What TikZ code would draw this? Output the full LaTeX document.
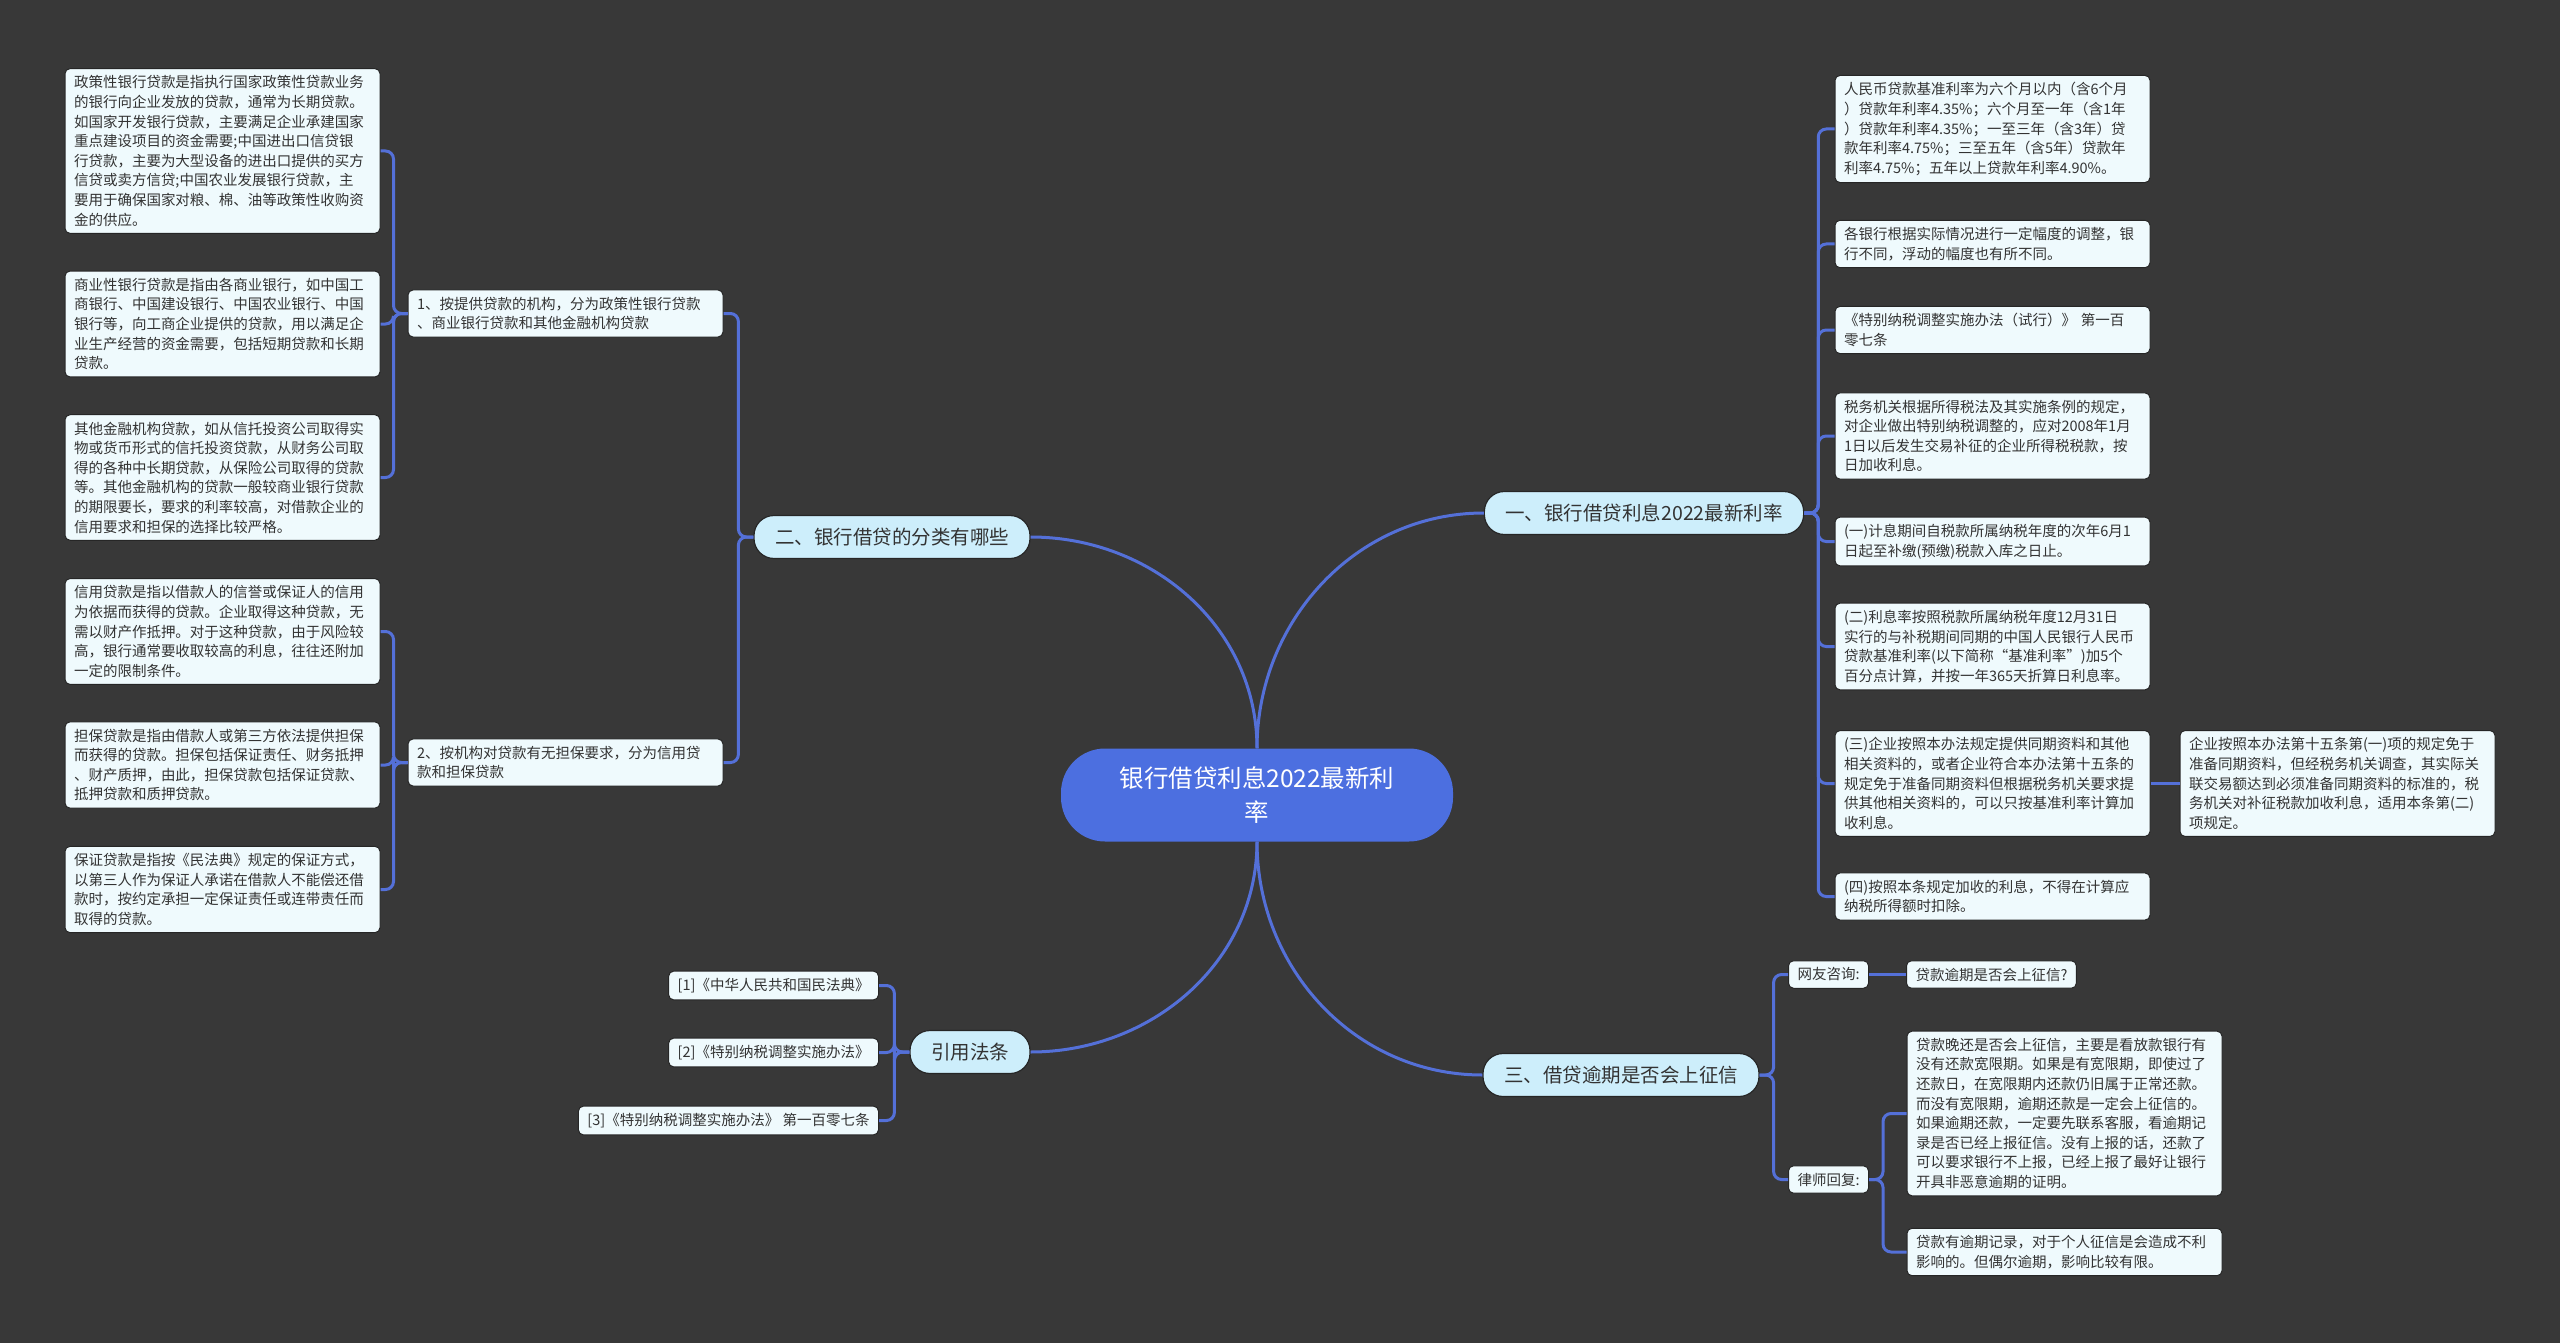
\documentclass[tikz,border=0pt]{standalone}
\usepackage{fontspec}
\setmainfont{Noto Sans CJK SC}
\usetikzlibrary{positioning}

\definecolor{bgdark}{HTML}{383838}
\definecolor{linkblue}{HTML}{5470D8}
\definecolor{rootblue}{HTML}{4C6FE0}
\definecolor{pillfill}{HTML}{CDEEFB}
\definecolor{leaffill}{HTML}{EFFAFD}
\definecolor{edgedark}{HTML}{262626}
\definecolor{inkdark}{HTML}{333333}

\begin{document}
\begin{tikzpicture}[x=1pt,y=-1pt,
  link/.style={draw=linkblue,line width=3pt,rounded corners=8pt},
  rootnode/.style={fill=rootblue,text=white,rounded corners=44pt,minimum height=93pt,minimum width=392pt,align=center,font=\fontsize{24.5}{34}\selectfont},
  branchnode/.style={fill=pillfill,draw=edgedark,line width=1.2pt,text=inkdark,rounded corners=20pt,minimum height=43pt,inner xsep=21pt,font=\fontsize{19.5}{24}\selectfont},
  leafnode/.style={fill=leaffill,draw=edgedark,line width=1pt,text=inkdark,rounded corners=5pt,inner xsep=9pt,inner ysep=7pt,font=\fontsize{14.5}{19.6}\selectfont},
  para/.style={leafnode,text width=297pt,align=left}]
\useasboundingbox (0,0) rectangle (2560,1343);
\fill[bgdark] (0,0) rectangle (2560,1343);

% centre and main branches
\node[rootnode] (root) at (1257,795) {银行借贷利息2022最新利\\率};
\node[branchnode] (sec1) at (1644,513) {一、银行借贷利息2022最新利率};
\node[branchnode] (sec2) at (892,537) {二、银行借贷的分类有哪些};
\node[branchnode] (law) at (970,1052) {引用法条};
\node[branchnode] (sec3) at (1621,1075) {三、借贷逾期是否会上征信};

% branch one
\node[para] (s1a) at (1992.5,129) {人民币贷款基准利率为六个月以内（含6个月\\）贷款年利率4.35\%；六个月至一年（含1年\\）贷款年利率4.35\%；一至三年（含3年）贷\\款年利率4.75\%；三至五年（含5年）贷款年\\利率4.75\%；五年以上贷款年利率4.90\%。};
\node[para] (s1b) at (1992.5,244) {各银行根据实际情况进行一定幅度的调整，银\\行不同，浮动的幅度也有所不同。};
\node[para] (s1c) at (1992.5,330) {《特别纳税调整实施办法（试行）》 第一百\\零七条};
\node[para] (s1d) at (1992.5,436) {税务机关根据所得税法及其实施条例的规定，\\对企业做出特别纳税调整的，应对2008年1月\\1日以后发生交易补征的企业所得税税款，按\\日加收利息。};
\node[para] (s1e) at (1992.5,541.5) {(一)计息期间自税款所属纳税年度的次年6月1\\日起至补缴(预缴)税款入库之日止。};
\node[para] (s1f) at (1992.5,646.5) {(二)利息率按照税款所属纳税年度12月31日\\实行的与补税期间同期的中国人民银行人民币\\贷款基准利率(以下简称“基准利率”)加5个\\百分点计算，并按一年365天折算日利息率。};
\node[para] (s1g) at (1992.5,783.5) {(三)企业按照本办法规定提供同期资料和其他\\相关资料的，或者企业符合本办法第十五条的\\规定免于准备同期资料但根据税务机关要求提\\供其他相关资料的，可以只按基准利率计算加\\收利息。};
\node[para] (s1x) at (2337.5,783.5) {企业按照本办法第十五条第(一)项的规定免于\\准备同期资料，但经税务机关调查，其实际关\\联交易额达到必须准备同期资料的标准的，税\\务机关对补征税款加收利息，适用本条第(二)\\项规定。};
\node[para] (s1h) at (1992.5,896.5) {(四)按照本条规定加收的利息，不得在计算应\\纳税所得额时扣除。};

% branch two
\node[para] (kind1) at (565.5,313.5) {1、按提供贷款的机构，分为政策性银行贷款\\、商业银行贷款和其他金融机构贷款};
\node[para] (kind2) at (565.5,762.5) {2、按机构对贷款有无担保要求，分为信用贷\\款和担保贷款};
\node[para] (k1a) at (222.5,151) {政策性银行贷款是指执行国家政策性贷款业务\\的银行向企业发放的贷款，通常为长期贷款。\\如国家开发银行贷款，主要满足企业承建国家\\重点建设项目的资金需要;中国进出口信贷银\\行贷款，主要为大型设备的进出口提供的买方\\信贷或卖方信贷;中国农业发展银行贷款，主\\要用于确保国家对粮、棉、油等政策性收购资\\金的供应。};
\node[para] (k1b) at (222.5,324) {商业性银行贷款是指由各商业银行，如中国工\\商银行、中国建设银行、中国农业银行、中国\\银行等，向工商企业提供的贷款，用以满足企\\业生产经营的资金需要，包括短期贷款和长期\\贷款。};
\node[para] (k1c) at (222.5,477.5) {其他金融机构贷款，如从信托投资公司取得实\\物或货币形式的信托投资贷款，从财务公司取\\得的各种中长期贷款，从保险公司取得的贷款\\等。其他金融机构的贷款一般较商业银行贷款\\的期限要长，要求的利率较高，对借款企业的\\信用要求和担保的选择比较严格。};
\node[para] (k2a) at (222.5,631.5) {信用贷款是指以借款人的信誉或保证人的信用\\为依据而获得的贷款。企业取得这种贷款，无\\需以财产作抵押。对于这种贷款，由于风险较\\高，银行通常要收取较高的利息，往往还附加\\一定的限制条件。};
\node[para] (k2b) at (222.5,765) {担保贷款是指由借款人或第三方依法提供担保\\而获得的贷款。担保包括保证责任、财务抵押\\、财产质押，由此，担保贷款包括保证贷款、\\抵押贷款和质押贷款。};
\node[para] (k2c) at (222.5,889.5) {保证贷款是指按《民法典》规定的保证方式，\\以第三人作为保证人承诺在借款人不能偿还借\\款时，按约定承担一定保证责任或连带责任而\\取得的贷款。};

% cited laws
\node[leafnode,anchor=east] (law1) at (879,985.5) {[1]《中华人民共和国民法典》};
\node[leafnode,anchor=east] (law2) at (879,1052.5) {[2]《特别纳税调整实施办法》};
\node[leafnode,anchor=east] (law3) at (879,1120.5) {[3]《特别纳税调整实施办法》 第一百零七条};

% branch three
\node[leafnode,anchor=west] (ask) at (1788,974.5) {网友咨询:};
\node[leafnode,anchor=west] (reply) at (1788,1179.5) {律师回复:};
\node[leafnode,anchor=west] (askq) at (1906,974.5) {贷款逾期是否会上征信?};
\node[para] (reply1) at (2064.5,1113.5) {贷款晚还是否会上征信，主要是看放款银行有\\没有还款宽限期。如果是有宽限期，即使过了\\还款日，在宽限期内还款仍旧属于正常还款。\\而没有宽限期，逾期还款是一定会上征信的。\\如果逾期还款，一定要先联系客服，看逾期记\\录是否已经上报征信。没有上报的话，还款了\\可以要求银行不上报，已经上报了最好让银行\\开具非恶意逾期的证明。};
\node[para] (reply2) at (2064.5,1252) {贷款有逾期记录，对于个人征信是会造成不利\\影响的。但偶尔逾期，影响比较有限。};

% connectors
\draw[link] (root.north) to[out=90,in=180] (sec1.west);
\draw[link] (root.north) to[out=90,in=0] (sec2.east);
\draw[link] (root.south) to[out=-90,in=0] (law.east);
\draw[link] (root.south) to[out=-90,in=180] (sec3.west);
\foreach \c in {s1a,s1b,s1c,s1d,s1e,s1f,s1g,s1h}
  \draw[link] (sec1.east) -- ++(14,0) |- (\c.west);
\draw[link] (s1g.east) -- (s1x.west);
\foreach \c in {kind1,kind2}
  \draw[link] (sec2.west) -- ++(-15,0) |- (\c.east);
\foreach \c in {k1a,k1b,k1c}
  \draw[link] (kind1.west) -- ++(-14,0) |- (\c.east);
\foreach \c in {k2a,k2b,k2c}
  \draw[link] (kind2.west) -- ++(-14,0) |- (\c.east);
\foreach \c in {law1,law2,law3}
  \draw[link] (law.west) -- ++(-15,0) |- (\c.east);
\foreach \c in {ask,reply}
  \draw[link] (sec3.east) -- ++(14,0) |- (\c.west);
\draw[link] (ask.east) -- (askq.west);
\foreach \c in {reply1,reply2}
  \draw[link] (reply.east) -- ++(14,0) |- (\c.west);
\end{tikzpicture}
\end{document}
